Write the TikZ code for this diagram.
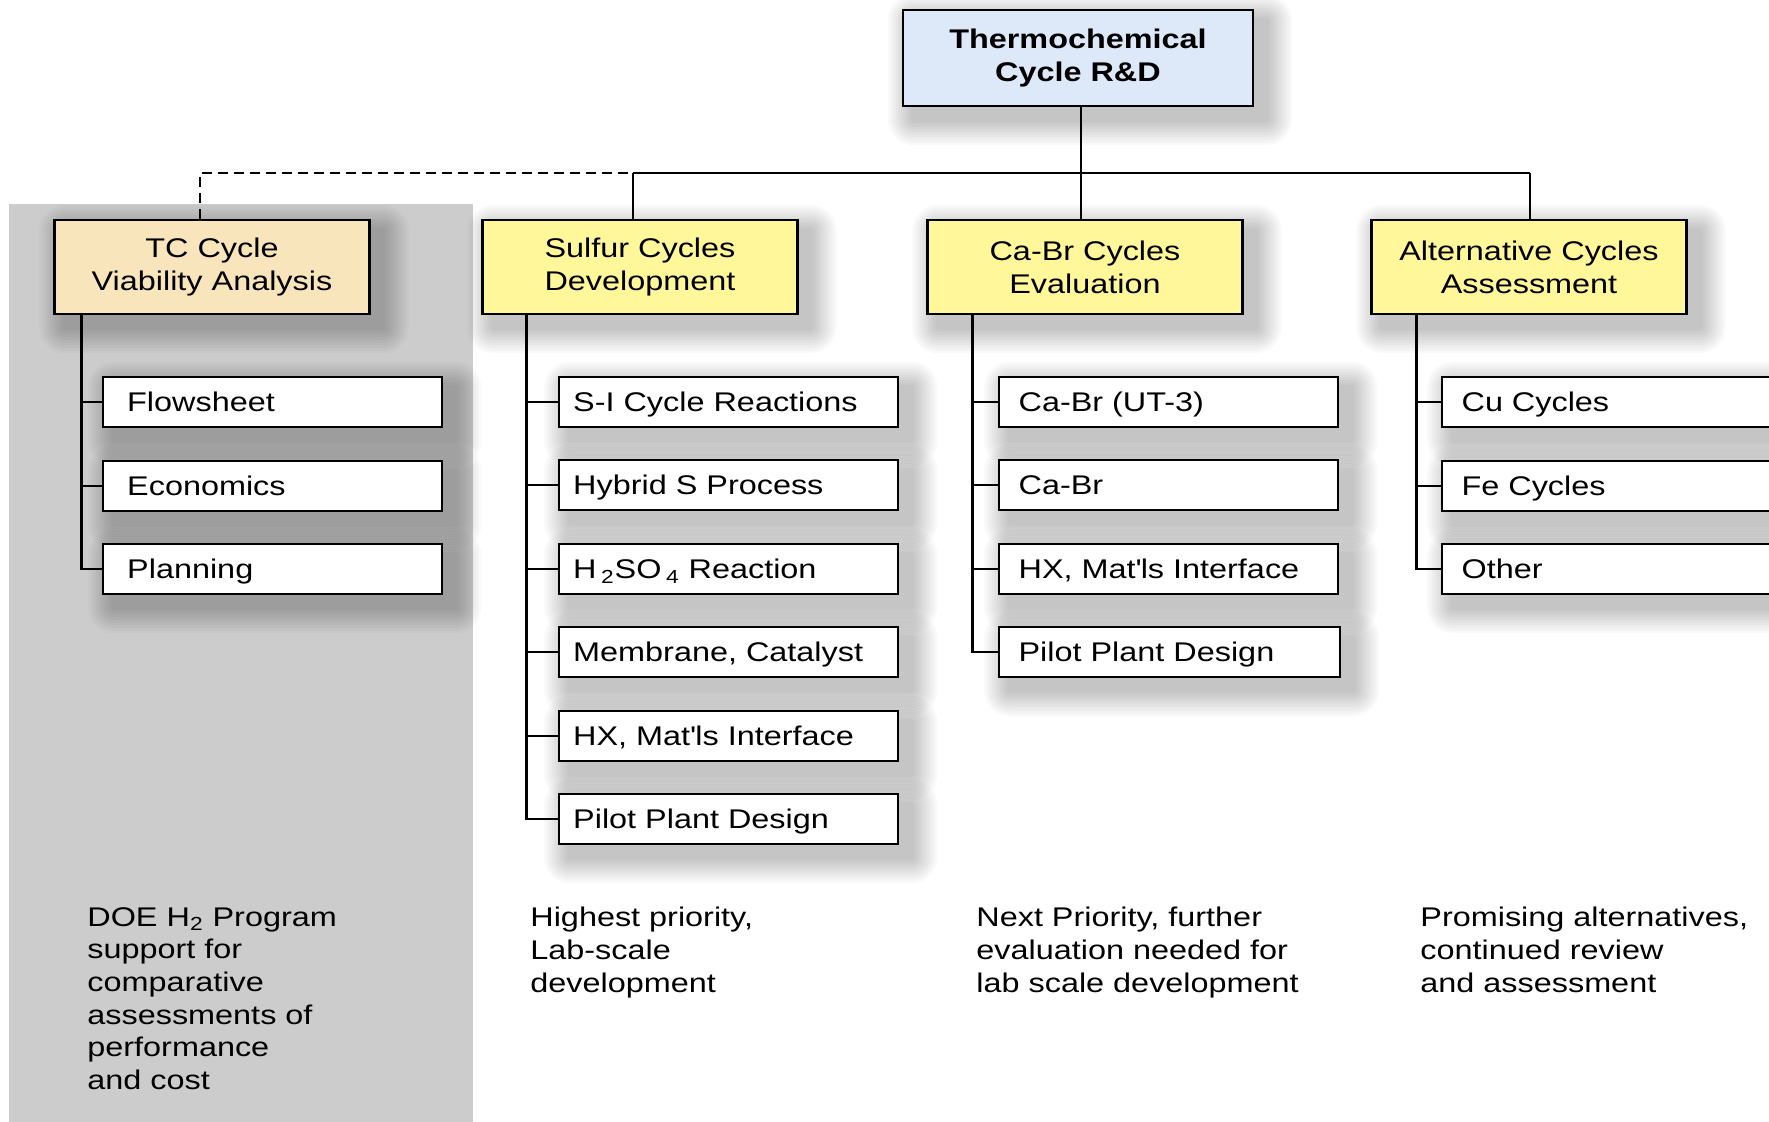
\documentclass[tikz,border=0pt]{standalone}
\usepackage{fontspec}
\setmainfont{Liberation Sans}[FakeStretch=1.2]
\definecolor{topblue}{RGB}{221,233,249}
\definecolor{tanbox}{RGB}{248,229,187}
\definecolor{yelbox}{RGB}{255,247,153}
\definecolor{graybg}{RGB}{204,204,204}
\pgfdeclarelayer{base}
\pgfdeclarelayer{shade}
\pgfsetlayers{base,shade,main}
\newcommand\boxshadow[1]{%
  \begin{pgfonlayer}{shade}
  \foreach \k in {1,...,10}{%
    \pgfmathsetmacro\r{1.3*\k}%
    \fill[black,opacity=0.024,rounded corners=\r pt]
      ([xshift=6pt-\r pt,yshift=-6pt+\r pt]#1.north west) rectangle
      ([xshift=6pt+\r pt,yshift=-6pt-\r pt]#1.south east);
  }
  \end{pgfonlayer}}
\begin{document}
\begin{tikzpicture}[x=0.5pt,y=-0.5pt,
  head/.style={draw=black,line width=1.2pt,minimum width=157.5pt,minimum height=47pt,align=center,
    font=\fontsize{13.5}{16.5}\selectfont,inner sep=0pt},
  sub/.style={draw=black,line width=1.2pt,fill=white,minimum height=25pt,anchor=west,align=left,
    inner xsep=#1,inner ysep=0pt,text width=169.5pt-2*#1,text height=9.7pt,text depth=0pt,
    font=\fontsize{13.5}{16.5}\selectfont},
  sub/.default=12pt,
  conn/.style={line width=1.4pt},
  note/.style={anchor=north west,align=left,inner sep=0pt,font=\fontsize{13.5}{16.3}\selectfont}]
\clip (0,0) rectangle (1769,1122);
\begin{pgfonlayer}{base}
\fill[white] (0,0) rectangle (1769,1122);
\fill[graybg] (9,204) rectangle (473,1122);
\end{pgfonlayer}

% heading nodes
\node[head,fill=topblue,minimum width=175pt,minimum height=48pt,font=\bfseries\fontsize{13.5}{16.5}\selectfont] (top) at (1078,58) {Thermochemical\\Cycle R\&D};
\node[head,fill=tanbox] (tc) at (212,267) {TC Cycle\\Viability Analysis};
\node[head,fill=yelbox] (sul) at (640,267) {Sulfur Cycles\\Development};
\node[head,fill=yelbox] (cab) at (1085,267) {Ca-Br Cycles\\Evaluation};
\node[head,fill=yelbox] (alt) at (1529,267) {Alternative Cycles\\Assessment};

% sub nodes
\node[sub] (f1) at (102,402) {Flowsheet};
\node[sub] (f2) at (102,486) {Economics};
\node[sub] (f3) at (102,569) {Planning};

\node[sub=7pt] (s1) at (558,402) {S-I Cycle Reactions};
\node[sub=7pt] (s2) at (558,485) {Hybrid S Process};
\node[sub=7pt] (s3) at (558,569) {H\,\textsubscript{2}SO\,\textsubscript{4} Reaction};
\node[sub=7pt] (s4) at (558,652) {Membrane, Catalyst};
\node[sub=7pt] (s5) at (558,736) {HX, Mat\textquotesingle ls Interface};
\node[sub=7pt] (s6) at (558,819) {Pilot Plant Design};

\node[sub=9.7pt] (c1) at (998,402) {Ca-Br (UT-3)};
\node[sub=9.7pt] (c2) at (998,485) {Ca-Br};
\node[sub=9.7pt] (c3) at (998,569) {HX, Mat\textquotesingle ls Interface};
\node[sub=9.7pt,text width=151pt] (c4) at (998,652) {Pilot Plant Design};

\node[sub=9.7pt] (a1) at (1441,402) {Cu Cycles};
\node[sub=9.7pt] (a2) at (1441,486) {Fe Cycles};
\node[sub=9.7pt] (a3) at (1441,569) {Other};

% shadows
\foreach \n in {top,tc,sul,cab,alt,f1,f2,f3,s1,s2,s3,s4,s5,s6,c1,c2,c3,c4,a1,a2,a3} {\boxshadow{\n}}

% bus connectors
\coordinate (jT) at (200,173);
\coordinate (jS) at (633,173);
\coordinate (jC) at (1081,173);
\coordinate (jA) at (1530,173);
\draw[conn] (jC |- top.south) -- (jC |- cab.north);
\draw[conn] (jS) -- (jA);
\draw[conn] (jS) -- (jS |- sul.north);
\draw[conn] (jA) -- (jA |- alt.north);
\draw[conn,dash pattern=on 5pt off 3pt] (jT |- tc.north) -- (jT) -- (jS);

% trunks
\coordinate (tT) at ([xshift=14pt]tc.south west);
\coordinate (tS) at ([xshift=22.5pt]sul.south west);
\coordinate (tC) at ([xshift=23pt]cab.south west);
\coordinate (tA) at ([xshift=23pt]alt.south west);
\draw[conn] (tT) |- (f3.west);
\draw[conn] (tT |- f1.west) -- (f1.west);
\draw[conn] (tT |- f2.west) -- (f2.west);
\draw[conn] (tS) |- (s6.west);
\foreach \n in {s1,s2,s3,s4,s5} \draw[conn] (tS |- \n.west) -- (\n.west);
\draw[conn] (tC) |- (c4.west);
\foreach \n in {c1,c2,c3} \draw[conn] (tC |- \n.west) -- (\n.west);
\draw[conn] (tA) |- (a3.west);
\foreach \n in {a1,a2} \draw[conn] (tA |- \n.west) -- (\n.west);

% notes
\node[note] (n1) at (87,907) {DOE H\textsubscript{2} Program\\support for\\comparative\\assessments of\\performance\\and cost};
\node[note] (n2) at (530,907) {Highest priority,\\Lab-scale\\development};
\node[note] (n3) at (976,907) {Next Priority, further\\evaluation needed for\\lab scale development};
\node[note] (n4) at (1420,907) {Promising alternatives,\\continued review\\and assessment};
\end{tikzpicture}
\end{document}
